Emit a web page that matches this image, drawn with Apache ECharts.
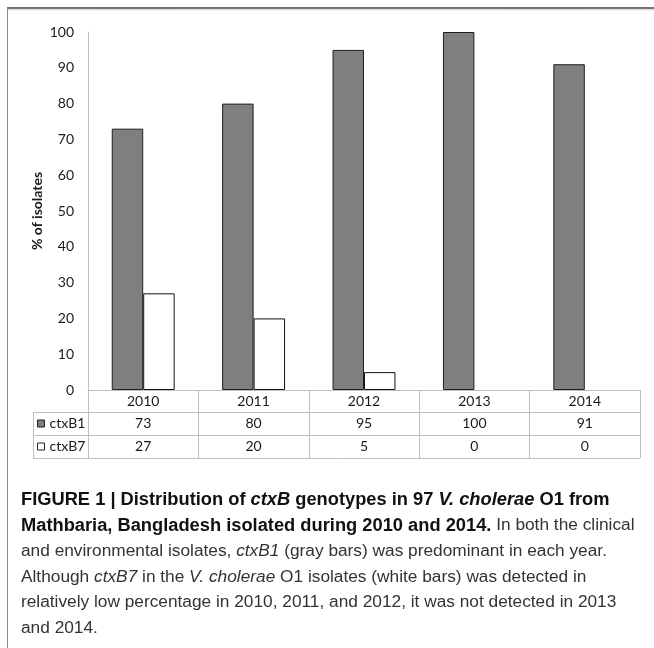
<!DOCTYPE html>
<html>
<head>
<meta charset="utf-8">
<script src="https://cdn.jsdelivr.net/npm/echarts@6/dist/echarts.min.js"></script>
<style>
  html, body { margin: 0; padding: 0; background: #fff; }
  #chart { width: 654px; height: 648px; }
</style>
</head>
<body>
<div id="chart"></div>
<script>
// ctxB genotype distribution per year (% of isolates)
const years = ['2010', '2011', '2012', '2013', '2014'];
const ctxB1 = [73, 80, 95, 100, 91];
const ctxB7 = [27, 20, 5, 0, 0];
const seriesNames = ['ctxB1', 'ctxB7'];

// layout of the plot area and the data table under it
const W = 654, H = 648;
const GRID_LEFT = 88, GRID_RIGHT = 14, GRID_TOP = 32, BASE_Y = 390;
const ROW_H = [22, 23, 23];          // year row, ctxB1 row, ctxB7 row
const HEAD_LEFT = 33;                // left edge of the row-header column
const TABLE_RIGHT = W - GRID_RIGHT;
const rowTop = [BASE_Y, BASE_Y + ROW_H[0], BASE_Y + ROW_H[0] + ROW_H[1]];
const tableBottom = rowTop[2] + ROW_H[2];

const GRID_LINE = '#bfbfbf';
const FONT = 'Lato, "Open Sans", sans-serif';
const CAP_FONT = '"Liberation Sans", Arial, sans-serif';

// caption: each line is a list of [style, text] runs
const caption = [
  [['b', 'FIGURE 1 | Distribution of '], ['bi', 'ctxB'], ['b', ' genotypes in 97 '], ['bi', 'V. cholerae'], ['b', ' O1 from']],
  [['b', 'Mathbaria, Bangladesh isolated during 2010 and 2014.'], ['r', ' In both the clinical']],
  [['r', 'and environmental isolates, '], ['i', 'ctxB1'], ['r', ' (gray bars) was predominant in each year.']],
  [['r', 'Although '], ['i', 'ctxB7'], ['r', ' in the '], ['i', 'V. cholerae'], ['r', ' O1 isolates (white bars) was detected in']],
  [['r', 'relatively low percentage in 2010, 2011, and 2012, it was not detected in 2013']],
  [['r', 'and 2014.']]
];
const CAP_X = 21, CAP_Y0 = 500, CAP_STEP = 25.6;
const CAP_BOLD = 18.3, CAP_REG = 17.3;

const capRich = {
  b:  { fontFamily: CAP_FONT, fontSize: CAP_BOLD, fontWeight: 'bold', fill: '#111' },
  bi: { fontFamily: CAP_FONT, fontSize: CAP_BOLD, fontWeight: 'bold', fontStyle: 'italic', fill: '#111' },
  r:  { fontFamily: CAP_FONT, fontSize: CAP_REG, fontWeight: 'normal', fill: '#333' },
  i:  { fontFamily: CAP_FONT, fontSize: CAP_REG, fontStyle: 'italic', fill: '#333' }
};

const graphics = [];

// outer frame: top rule and left rule
graphics.push({ type: 'line', shape: { x1: 7, y1: 8, x2: W, y2: 8 }, style: { stroke: '#444', lineWidth: 1.5 } });
graphics.push({ type: 'line', shape: { x1: 7, y1: 9.8, x2: W, y2: 9.8 }, style: { stroke: '#d0d0d0', lineWidth: 1 } });
graphics.push({ type: 'line', shape: { x1: 7.5, y1: 8, x2: 7.5, y2: H }, style: { stroke: '#8a8a8a', lineWidth: 1 } });

// table horizontal rules (below the year row) and the row-header column
[rowTop[1], rowTop[2], tableBottom].forEach(function (y) {
  graphics.push({ type: 'line', shape: { x1: HEAD_LEFT, y1: y + 0.5, x2: TABLE_RIGHT, y2: y + 0.5 }, style: { stroke: GRID_LINE, lineWidth: 1 } });
});
graphics.push({ type: 'line', shape: { x1: HEAD_LEFT + 0.5, y1: rowTop[1], x2: HEAD_LEFT + 0.5, y2: tableBottom }, style: { stroke: GRID_LINE, lineWidth: 1 } });

// row headers with legend keys
const keyFill = ['#7f7f7f', '#ffffff'];
[1, 2].forEach(function (r, k) {
  const cy = rowTop[r] + ROW_H[r] / 2;
  graphics.push({ type: 'rect', shape: { x: 37.5, y: cy - 3.5, width: 7, height: 7 }, style: { fill: keyFill[k], stroke: '#222', lineWidth: 1 } });
  graphics.push({ type: 'text', x: 49.5, y: cy, style: { text: seriesNames[k], font: '14px ' + FONT, fill: '#1a1a1a', verticalAlign: 'middle', align: 'left' } });
});

// caption lines
caption.forEach(function (runs, i) {
  const txt = runs.map(function (r) { return '{' + r[0] + '|' + r[1] + '}'; }).join('');
  graphics.push({ type: 'text', x: CAP_X, y: CAP_Y0 + i * CAP_STEP, style: { text: txt, rich: capRich, verticalAlign: 'middle', align: 'left' } });
});

function tableAxis(offset, formatter) {
  return {
    type: 'category', data: years, position: 'bottom', offset: offset,
    axisLine: { show: false }, axisTick: { show: false },
    axisLabel: { interval: 0, margin: 11.5, verticalAlign: 'middle', fontFamily: FONT, fontSize: 14, color: '#1a1a1a', formatter: formatter }
  };
}

const chart = echarts.init(document.getElementById('chart'), null, { renderer: 'canvas' });
chart.setOption({
  animation: false,
  backgroundColor: '#fff',
  grid: { left: GRID_LEFT, right: GRID_RIGHT, top: GRID_TOP, bottom: H - BASE_Y, containLabel: false },
  xAxis: [
    {
      type: 'category', data: years, position: 'bottom',
      axisLine: { show: true, lineStyle: { color: GRID_LINE, width: 1 } },
      axisTick: { show: true, interval: 0, alignWithLabel: false, length: tableBottom - BASE_Y, lineStyle: { color: GRID_LINE, width: 1 } },
      axisLabel: { interval: 0, margin: 11, verticalAlign: 'middle', fontFamily: FONT, fontSize: 14, color: '#1a1a1a' }
    },
    tableAxis(rowTop[1] - BASE_Y, function (v, i) { return String(ctxB1[i]); }),
    tableAxis(rowTop[2] - BASE_Y, function (v, i) { return String(ctxB7[i]); })
  ],
  yAxis: {
    type: 'value', min: 0, max: 100, interval: 10,
    name: '% of isolates', nameLocation: 'middle', nameRotate: 90, nameGap: 44,
    nameMoveOverlap: false,
    nameTextStyle: { fontFamily: FONT, fontSize: 14, fontWeight: 'bold', color: '#1a1a1a' },
    axisLine: { show: true, lineStyle: { color: GRID_LINE, width: 1 } },
    axisTick: { show: false },
    splitLine: { show: false },
    axisLabel: { margin: 14, fontFamily: FONT, fontSize: 14, color: '#1a1a1a' }
  },
  series: [
    {
      name: seriesNames[0], type: 'bar', xAxisIndex: 0, data: ctxB1,
      barGap: '0%', barCategoryGap: '43%',
      itemStyle: { color: '#7f7f7f', borderColor: '#1f1f1f', borderWidth: 1 }
    },
    {
      name: seriesNames[1], type: 'bar', xAxisIndex: 0,
      data: ctxB7.map(function (v) { return v === 0 ? { value: v, itemStyle: { borderWidth: 0 } } : v; }),
      barGap: '0%', barCategoryGap: '43%',
      itemStyle: { color: '#ffffff', borderColor: '#111', borderWidth: 1 }
    }
  ],
  graphic: graphics
});
</script>
</body>
</html>
